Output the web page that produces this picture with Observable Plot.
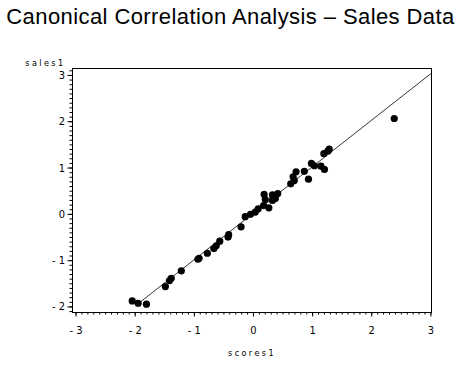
<!DOCTYPE html>
<html><head><meta charset="utf-8">
<script src="https://cdn.jsdelivr.net/npm/d3@7"></script>
<script src="https://cdn.jsdelivr.net/npm/@observablehq/plot@0.6"></script>
<style>
body{margin:0;background:#fff;width:461px;height:365px;overflow:hidden}
#title{font-family:"Liberation Sans",Arial,sans-serif;font-size:22px;height:40px;line-height:34px;text-align:center;white-space:nowrap;color:#000}
</style></head><body>
<div id="title"><span id="t">Canonical Correlation Analysis – Sales Data</span></div>
<div id="chart"></div>
<script>
const titleText = "Canonical Correlation Analysis – Sales Data";
const xLabel = "scores1";
const yLabel = "sales1";
const scores1 = [-2.05,-1.95,-1.81,-1.49,-1.42,-1.39,-1.22,-0.94,-0.92,-0.78,-0.67,-0.63,-0.57,-0.43,-0.42,-0.21,-0.14,-0.05,0.03,0.08,0.17,0.18,0.20,0.26,0.32,0.37,0.32,0.41,0.63,0.67,0.69,0.72,0.86,0.93,0.98,1.03,1.14,1.20,1.19,1.26,1.28,2.38];
const sales1  = [-1.87,-1.92,-1.94,-1.56,-1.43,-1.38,-1.22,-0.97,-0.95,-0.84,-0.74,-0.68,-0.58,-0.49,-0.44,-0.27,-0.05,0.00,0.05,0.12,0.19,0.43,0.32,0.14,0.42,0.34,0.30,0.45,0.66,0.81,0.73,0.92,0.93,0.76,1.10,1.05,1.04,0.97,1.31,1.37,1.41,2.07];
const fitX = [-1.92, 3.01];
const fitY = [-1.90, 3.05];
const xTicks = [-3,-2,-1,0,1,2,3];
const yTicks = [-2,-1,0,1,2,3];
const xMinor = d3.range(-30, 31).map(d => d / 10);
const yMinor = d3.range(-21, 32).map(d => d / 10);

const pts = scores1.map((x, i) => ({x, y: sales1[i]}));
const fit = fitX.map((x, i) => ({x, y: fitY[i]}));
const fmt = d => d < 0 ? "- " + Math.abs(d) : String(d);

const chart = Plot.plot({
  width: 461,
  height: 325,
  marginLeft: 72,
  marginRight: 30,
  marginTop: 28,
  marginBottom: 53,
  style: {fontFamily: "'DejaVu Sans Condensed', sans-serif", fontSize: "11px", color: "#000", background: "#fff"},
  x: {domain: [-3.06, 3.01]},
  y: {domain: [-2.12, 3.15]},
  marks: [
    Plot.frame({stroke: "#000", strokeWidth: 1}),
    Plot.axisX({ticks: xMinor, tickSize: 2.5, text: null, label: null, stroke: "#000"}),
    Plot.axisX({ticks: xTicks, tickSize: 4.5, tickPadding: 9, tickFormat: fmt, label: null, stroke: "#000"}),
    Plot.axisY({ticks: yMinor, tickSize: 2.5, text: null, label: null, stroke: "#000"}),
    Plot.axisY({ticks: yTicks, tickSize: 4.5, tickPadding: 3, tickFormat: fmt, label: null, stroke: "#000"}),
    Plot.line(fit, {x: "x", y: "y", stroke: "#000", strokeWidth: 0.8}),
    Plot.dot(pts, {x: "x", y: "y", r: 3.6, fill: "#000", stroke: "none"}),
    Plot.text([yLabel], {frameAnchor: "top-left", dx: -7, dy: -5, textAnchor: "end", lineAnchor: "middle", fontSize: 9, fill: "#000"}),
    Plot.text([xLabel], {frameAnchor: "bottom", dy: 41, lineAnchor: "middle", fontSize: 9, fill: "#000"})
  ]
});
chart.querySelectorAll("text").forEach(t => {
  if (t.textContent === xLabel || t.textContent === yLabel) t.style.letterSpacing = "2.4px";
});
document.getElementById("chart").appendChild(chart);
document.getElementById("t").textContent = titleText;
const t = document.getElementById("t");
const w = t.getBoundingClientRect().width;
const n = titleText.length - 1;
t.style.letterSpacing = ((448 - w) / n) + "px";
</script>
</body></html>
